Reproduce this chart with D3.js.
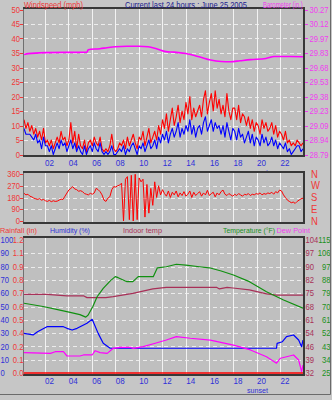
<!DOCTYPE html>
<html><head><meta charset="utf-8">
<script src="https://cdn.jsdelivr.net/npm/d3@7"></script>
<style>
body{margin:0;background:#c6c6c6;}
svg{display:block;font-family:"Liberation Sans",Arial,sans-serif;}
</style>
</head><body>
<svg id="c" width="332" height="400"></svg>
<script>
// ---------- DATA ----------
const hourTicks = [2,4,6,8,10,12,14,16,18,20,22];
const hourLabels = ["02","04","06","08","10","12","14","16","18","20","22"];
const sunsetHour = 20.0;

const windStartHour = 0.25, windEndHour = 23.95; // 10-minute samples
const windGust = [
 12,9,11,8,10,7, 9,6,8,5,9,4, 5,3,5,2,4,6, 4,8,5,6,3,5,
 11,4,8,2,7,3, 2,5,1,4,5,3, 6,4,3,6,2,1, 2,1,3,7,2,1,
 2,4,3,5,2,6, 3,5,7,4,2,6, 5,8,3,6,9,4, 6,8,5,10,7,12,
 9,14,8,12,16,10, 13,17,11,15,12,18, 14,20,12,16,13,15, 17,13,19,22,14,18,
 21,15,22,16,19,14, 17,13,21,15,12,16, 16,12,17,11,14,13, 10,13,9,12,8,11,
 10,7,12,9,11,8, 9,11,7,10,6,8, 7,5,8,4,5,3, 4,3,5,4,3,4
];
const windAvg = [
 9,7,7,7,6,5, 7,4,5,2,6,3, 3,1,3,0,2,4, 2,5,3,4,1,3,
 5,2,4,1,3,1, 0,3,0,2,3,1, 4,2,1,4,1,0, 1,0,1,3,0,0,
 1,2,1,3,0,2, 1,3,4,2,0,3, 2,4,1,3,5,2, 3,5,2,6,4,7,
 5,8,4,7,9,6, 8,11,6,9,7,10, 8,12,7,10,6,9, 10,7,11,13,8,10,
 12,8,11,9,10,7, 10,6,11,8,5,9, 8,5,9,6,7,4, 6,8,4,7,3,6,
 5,3,7,4,6,3, 4,6,3,5,2,4, 3,2,4,1,2,0, 1,2,3,3,1,2
];
const windDir = [
 212,200,205,190,185,175, 170,165,172,160,165,155, 150,158,148,155,150,152, 160,168,165,190,214,238,
 250,263,245,240,228,232, 225,210,205,200,212,205, 215,250,240,225,200,160, 150,175,186,240,263,260,
 270,275,290,0,320,340, 10,350,0,358,10,330, 300,320,30,280,60,250, 120,300,180,270,200,240,
 210,190,230,180,220,200, 230,185,215,195,225,190, 205,230,180,220,195,210, 225,190,215,200,235,195,
 210,220,185,215,200,225, 237,205,195,210,200,190, 205,195,210,200,190,205, 200,210,195,205,200,210,
 205,215,200,210,205,215, 210,220,205,225,215,237, 230,200,180,160,150,140, 145,135,150,160,170,175
];

const baroHours = [0.25,0.6,2.0,5.6,5.7,6.7,7.3,8.0,9.0,10.0,10.8,11.5,12.3,13.0,14.0,14.4,15.2,16.1,17.0,17.8,18.6,19.5,20.8,21.5,22.9,23.95];
const baroValues = [29.81,29.82,29.83,29.835,29.86,29.87,29.88,29.89,29.895,29.895,29.89,29.87,29.84,29.835,29.82,29.81,29.785,29.755,29.74,29.737,29.747,29.758,29.77,29.79,29.79,29.788];

const windTickLabels = ["0","5","10","15","20","25","30","35","40","45","50"];
const baroTickLabels = ["28.79","28.94","29.09","29.23","29.38","29.53","29.68","29.83","29.97","30.12","30.27"];
const dirTickValues = [0,90,180,270,360];
const dirTickLabels = ["0","90","180","270","360"];
const dirCompass = ["N","E","S","W","N"];

const tempHours = [0.25,1.87,3.3,4.17,5.0,5.5,5.7,6.1,6.46,6.98,7.6,8.0,8.25,9.0,9.5,9.95,11.23,11.57,12.34,13.19,14.0,15.15,15.99,17.0,18.04,19.4,20.85,22.3,23.95];
const tempValues = [72.2,70,67.5,66,64.5,62.8,64.2,70,76.6,82.3,87.5,90.2,89.5,86.8,86.8,90.2,90.2,96.1,96.9,98.6,98.0,96.9,96.2,94,91.3,86.8,80,74.4,68.8];

const indoorHours = [0.25,2.2,3.9,5.3,5.6,7.2,7.83,9.5,11.2,12.34,16.6,16.85,17.5,18.0,19.4,20.85,21.7,23.95];
const indoorValues = [74.6,74.6,73.8,73.8,72.8,72.8,73.3,75.1,77.5,78.4,78.4,77.5,78.4,78.0,77,74.8,74.2,74.2];

const humHours = [0.25,1.02,1.4,2.2,3.6,3.9,4.34,4.76,5.6,6.04,6.55,6.98,7.57,21.7,21.75,22.2,22.55,23.15,23.58,23.83,23.95];
const humValues = [29.8,28.6,31,34.8,34.8,33.6,32.3,33.6,37.4,40.4,29.8,22.3,18.6,18.6,22.3,23.5,27.3,28.6,24.8,19.8,24.8];

const dewHours = [0.25,2.5,2.9,3.6,3.9,5.0,5.3,6.04,6.29,6.72,7.32,7.83,8.42,9.27,9.53,10.38,11.4,12.34,13.19,14.38,16.08,18.04,19.49,20.85,21.7,22.04,22.55,23.15,23.58,23.83,23.95];
const dewValues = [38.8,38.3,39.4,39.4,36.5,36.5,37.2,37.2,40.1,38.8,38.3,41.7,42.4,42.4,41.7,42.8,45.1,47.3,49.6,48.5,47.3,43.9,40.6,36,31.6,35,36,37.2,33.8,25.9,30.4];

const rainHours = [0.25,23.95];
const rainValues = [0,0];

const humTickLabels = ["0","10","20","30","40","50","60","70","80","90","100"];
const rainTickLabels = ["0.0","0.1","0.2","0.4","0.5","0.6","0.7","0.8","0.9","1.1","1.2"];
const indoorTickLabels = ["32","39","46","54","61","68","75","82","90","97","104"];
const tempTickLabels = ["25","34","43","52","61","70","79","88","97","106","115"];

// ---------- DRAWING ----------
const C = {red:"#ff0000", redTxt:"#f03838", blue:"#0000ff", blueTxt:"#3030d8", mag:"#ff00ff", magTxt:"#f040f0",
  green:"#109010", greenTxt:"#209020", maroon:"#a83058", maroonTxt:"#a83058", navy:"#202090"};
const svg = d3.select("#c");
const X0 = 24, X1 = 303;
const x = d3.scaleLinear().domain([0.25, 23.95]).range([X0, X1]);
const windHours = windGust.map((d,i)=> windStartHour + i*(windEndHour-windStartHour)/(windGust.length-1));

// text drawn narrow (reference uses a narrow bitmap font)
function label(g, s, px, py, anchor, size, color, sx, dy){
  return g.append("text").attr("transform",`translate(${px},${py}) scale(${sx},1)`)
    .attr("text-anchor",anchor).attr("dy",dy||"0.35em").attr("font-size",size).attr("fill",color).text(s);
}
function title(s, px, py, width, color, size){
  const t = label(svg, s, px, py, "start", size||9, color, 1, "0");
  const n = t.node().getComputedTextLength();
  t.attr("transform",`translate(${px},${py}) scale(${(width/n).toFixed(3)},1)`);
}

let clipId = 0;
function panel(top, bottom, y, gridVals){
  svg.append("rect").attr("x",X0).attr("y",top).attr("width",X1-X0).attr("height",bottom-top).attr("fill","#bfbfbf");
  const g = svg.append("g").attr("shape-rendering","crispEdges");
  g.selectAll("line.h").data(gridVals).join("line")
    .attr("x1",X0).attr("x2",X1).attr("y1",d=>Math.round(y(d))+0.5).attr("y2",d=>Math.round(y(d))+0.5)
    .attr("stroke","#ececec").attr("stroke-dasharray","4,3");
  g.selectAll("line.v").data(hourTicks).join("line")
    .attr("x1",d=>Math.round(x(d))+0.5).attr("x2",d=>Math.round(x(d))+0.5).attr("y1",top).attr("y2",bottom)
    .attr("stroke","#f2f2f2");
  const id = "clip"+(clipId++);
  svg.append("clipPath").attr("id",id).append("rect").attr("x",X0).attr("y",top).attr("width",X1-X0).attr("height",bottom-top);
  return svg.append("g").attr("clip-path",`url(#${id})`);
}
function frame(top,bottom){
  svg.append("rect").attr("x",X0-0.5).attr("y",top-0.5).attr("width",X1-X0+1).attr("height",bottom-top+1)
    .attr("fill","none").attr("stroke","#707070");
  svg.append("path").attr("d",`M${X0-1},${top-1}H${X1+1}V${bottom+1}H${X0-1}`)
    .attr("fill","none").attr("stroke","#383838").attr("stroke-width",2);
}
function xLabels(yText, ySun){
  const g = svg.append("g");
  hourTicks.forEach((h,i)=> label(g, hourLabels[i], x(h)+0.5, yText, "start", 9.5, C.blueTxt, 0.85, "0"));
  label(g, "sunset", x(sunsetHour)+1, ySun, "middle", 7.5, C.blueTxt, 0.95, "0");
}
function line(plot, xs, vs, y, color, w, curve){
  plot.append("path").datum(vs.map((v,i)=>[xs[i],v]))
    .attr("d", d3.line().x(d=>x(d[0])).y(d=>y(d[1])).curve(curve||d3.curveLinear))
    .attr("fill","none").attr("stroke",color).attr("stroke-width",w||1).attr("stroke-linejoin","round");
}
function tickLabels(vals, labels, y, xPos, anchor, color, tick){
  const g = svg.append("g");
  vals.forEach((v,i)=> label(g, labels[i], xPos, y(v), anchor, 9, color, 0.85));
  if(tick!==undefined){
    g.selectAll("line").data(vals).join("line")
      .attr("x1",tick).attr("x2",tick+3).attr("y1",d=>Math.round(y(d))+0.5).attr("y2",d=>Math.round(y(d))+0.5)
      .attr("stroke",color).attr("shape-rendering","crispEdges");
  }
}

// Top panel: wind + barometer
const T0=9, T1=155;
const yWind = d3.scaleLinear().domain([0,50]).range([154.5,9.5]);
const yBaro = d3.scaleLinear().domain([28.79,30.27]).range([154.5,9.5]);
const p1 = panel(T0,T1,yWind,d3.range(5,50,5));
line(p1, baroHours, baroValues, yBaro, C.mag, 1.6, d3.curveMonotoneX);
line(p1, windHours, windGust, yWind, C.red, 1.1);
line(p1, windHours, windAvg, yWind, C.blue, 1.1);
frame(T0,T1);
tickLabels(d3.range(0,55,5), windTickLabels, yWind, 20, "end", C.redTxt, 20);
tickLabels(d3.range(11).map(i=>28.79+i*0.148), baroTickLabels, yBaro, 309.5, "start", C.magTxt, 305);
xLabels(166, 175);
title("Windspeed (mph)", 24, 8.3, 59, C.redTxt);
title("Current last 24 hours : June 25 2005", 125, 8.3, 122, C.navy);
title("Barometer (in.)", 263, 8.3, 40, C.magTxt);

// Middle panel: wind direction
const M0=173, M1=222;
const yDir = d3.scaleLinear().domain([0,360]).range([221,174]);
const p2 = panel(M0,M1,yDir,[90,180,270]);
line(p2, windHours, windDir, yDir, C.red, 1);
frame(M0,M1);
tickLabels(dirTickValues, dirTickLabels, yDir, 20, "end", C.redTxt, 20);
const cg = svg.append("g");
dirTickValues.forEach((v,i)=> label(cg, dirCompass[i], 311, yDir(v), "start", 10.5, C.redTxt, 0.9));

// Bottom panel
const B0=238, B1=374;
const yHum = d3.scaleLinear().domain([0,100]).range([373,240]);
const yRain = d3.scaleLinear().domain([0,1.2]).range([373,240]);
const yIndoor = d3.scaleLinear().domain([32,104]).range([373,240]);
const yTemp = d3.scaleLinear().domain([25,115]).range([373,240]);
const p3 = panel(B0,B1,yHum,d3.range(10,100,10));
line(p3, humHours, humValues, yHum, C.blue, 1.2);
line(p3, dewHours, dewValues, yTemp, C.mag, 1.2);
line(p3, indoorHours, indoorValues, yIndoor, C.maroon, 1.2);
line(p3, tempHours, tempValues, yTemp, C.green, 1.2);
line(p3, rainHours, rainValues, yRain, C.red, 1.5);
frame(B0,B1);
const humVals = d3.range(0,110,10);
tickLabels(humVals, humTickLabels, yHum, 0.5, "start", C.blueTxt);
tickLabels(humVals.map(v=>v*0.012), rainTickLabels, yRain, 23.5, "end", C.redTxt);
tickLabels(humVals.map(v=>32+v*0.72), indoorTickLabels, yIndoor, 305.5, "start", C.maroonTxt);
tickLabels(humVals.map(v=>25+v*0.9), tempTickLabels, yTemp, 330.5, "end", C.greenTxt);
xLabels(384, 393);
title("Rainfall (in)", 0, 233.4, 37, C.redTxt, 7.8);
title("Humidity (%)", 50, 233.4, 40, C.blueTxt, 7.8);
title("Indoor temp", 123, 233.4, 39, C.maroonTxt, 7.8);
title("Temperature (°F)", 223, 233.4, 52, C.greenTxt, 7.8);
title("Dew Point", 276.5, 233.4, 33.5, C.magTxt, 7.8);

// outer frame
svg.append("path").attr("d","M0,394.5H330.5V0").attr("fill","none").attr("stroke","#6a6a6a");
</script>
</body></html>
